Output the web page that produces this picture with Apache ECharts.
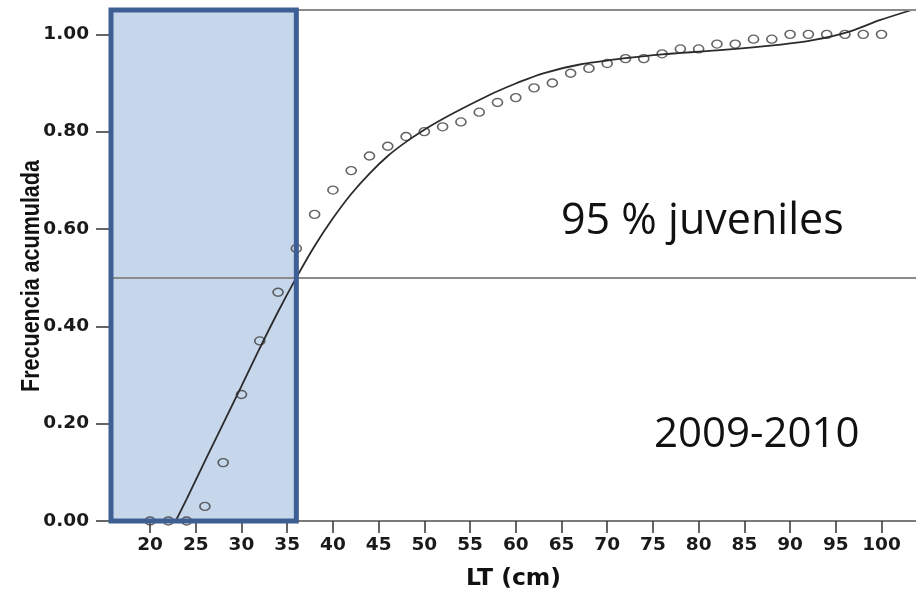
<!DOCTYPE html>
<html><head><meta charset="utf-8">
<script src="https://cdn.jsdelivr.net/npm/echarts@6/dist/echarts.min.js"></script>
<style>html,body{margin:0;padding:0;background:#fff}#c{width:916px;height:592px}</style>
</head><body><div id="c"></div>
<script>
// ---- data ----
const lengthCm = [20,22,24,26,28,30,32,34,36,38,40,42,44,46,48,50,52,54,56,58,60,62,64,66,68,70,72,74,76,78,80,82,84,86,88,90,92,94,96,98,100];
const cumFreq  = [0,0,0,0.03,0.12,0.26,0.37,0.47,0.56,0.63,0.68,0.72,0.75,0.77,0.79,0.80,0.81,0.82,0.84,0.86,0.87,0.89,0.90,0.92,0.93,0.94,0.95,0.95,0.96,0.97,0.97,0.98,0.98,0.99,0.99,1.00,1.00,1.00,1.00,1.00,1.00];
const fitX = [22.8,24,26,28,30,32,34,36,38,40,42,44,46,48,50,52,54,56,58,60,63,67,72,76,82,89,92.5,96.2,99.8,103.3];
const fitY = [0,0.045,0.123,0.2,0.277,0.355,0.43,0.5,0.565,0.622,0.672,0.714,0.75,0.779,0.804,0.826,0.846,0.865,0.883,0.899,0.92,0.938,0.951,0.959,0.967,0.979,0.988,1.004,1.029,1.05];
const xTicks = [20,25,30,35,40,45,50,55,60,65,70,75,80,85,90,95,100];
const yTicks = [0,0.2,0.4,0.6,0.8,1.0];
const xRange = [15.73, 103.77];
const yRange = [0, 1.05];
const l50 = 36;          // length at 50 % (juvenile limit)
const halfLevel = 0.5;
const xName = 'LT (cm)';
const yName = 'Frecuencia acumulada';
const noteJuv = '95 % juveniles';
const notePeriod = '2009-2010';

const dots = lengthCm.map((x, i) => [x, cumFreq[i]]);
const fit = fitX.map((x, i) => [x, fitY[i]]);
const juvArea = [[{xAxis: xRange[0], yAxis: yRange[0]}, {xAxis: l50, yAxis: yRange[1]}]];

const chart = echarts.init(document.getElementById('c'), null, {renderer: 'canvas'});
const labelFont = {fontFamily: 'DejaVu Sans', fontWeight: 'bold', fontSize: 18.5, color: '#1a1a1a'};
const option = {
  animation: false,
  grid: {left: 111, right: 0, top: 10, bottom: 71, containLabel: false, outerBoundsMode: 'none'},
  xAxis: {
    type: 'value', min: xRange[0], max: xRange[1],
    axisLine: {show: true, lineStyle: {color: '#7a7a7a', width: 2}},
    axisTick: {show: true, customValues: xTicks, length: 12, lineStyle: {color: '#333', width: 1.5}},
    axisLabel: Object.assign({customValues: xTicks, margin: 15}, labelFont),
    splitLine: {show: false},
    name: xName, nameLocation: 'middle', nameGap: 46,
    nameTextStyle: {fontFamily: 'DejaVu Sans', fontWeight: 'bold', fontSize: 23.5, color: '#111'}
  },
  yAxis: {
    type: 'value', min: yRange[0], max: yRange[1],
    axisLine: {show: true, lineStyle: {color: '#7a7a7a', width: 2}},
    axisTick: {show: true, customValues: yTicks, length: 15, lineStyle: {color: '#333', width: 1.5}},
    axisLabel: Object.assign({customValues: yTicks, margin: 22, formatter: v => v.toFixed(2)}, labelFont),
    splitLine: {show: false}
  },
  graphic: [
    {type: 'text', x: 32, y: 276, rotation: Math.PI / 2, scaleY: 1.18, z: 100,
     style: {text: yName, font: 'bold 21.5px "Liberation Sans"', fill: '#111', align: 'center', verticalAlign: 'middle'}},
    {type: 'text', x: 561, y: 222, z: 100,
     style: {text: noteJuv, font: '43px "Open Sans"', fill: '#111', align: 'left', verticalAlign: 'middle'}},
    {type: 'text', x: 654, y: 435, z: 100,
     style: {text: notePeriod, font: '42px "Open Sans"', fill: '#111', align: 'left', verticalAlign: 'middle'}}
  ],
  series: [
    {
      type: 'scatter', data: dots, z: 3,
      symbol: 'circle', symbolSize: [10, 8],
      itemStyle: {color: 'rgba(255,255,255,0)', borderColor: '#3f3f3f', borderWidth: 1.5},
      markArea: {
        silent: true,
        itemStyle: {color: '#c6d6eb'},
        data: juvArea
      },
      markLine: {
        silent: true, symbol: 'none', label: {show: false},
        lineStyle: {color: '#8a8a8a', width: 2, type: 'solid'},
        data: [{yAxis: halfLevel}, {yAxis: yRange[1]}]
      }
    },
    {
      type: 'line', data: fit, z: 4, smooth: 0.3, showSymbol: false,
      lineStyle: {color: '#2b2b2b', width: 1.8},
      markArea: {
        silent: true, z: 10,
        itemStyle: {color: 'rgba(0,0,0,0)', borderColor: '#3d5f93', borderWidth: 5},
        data: juvArea
      }
    }
  ]
};
chart.setOption(option);
</script>
</body></html>
